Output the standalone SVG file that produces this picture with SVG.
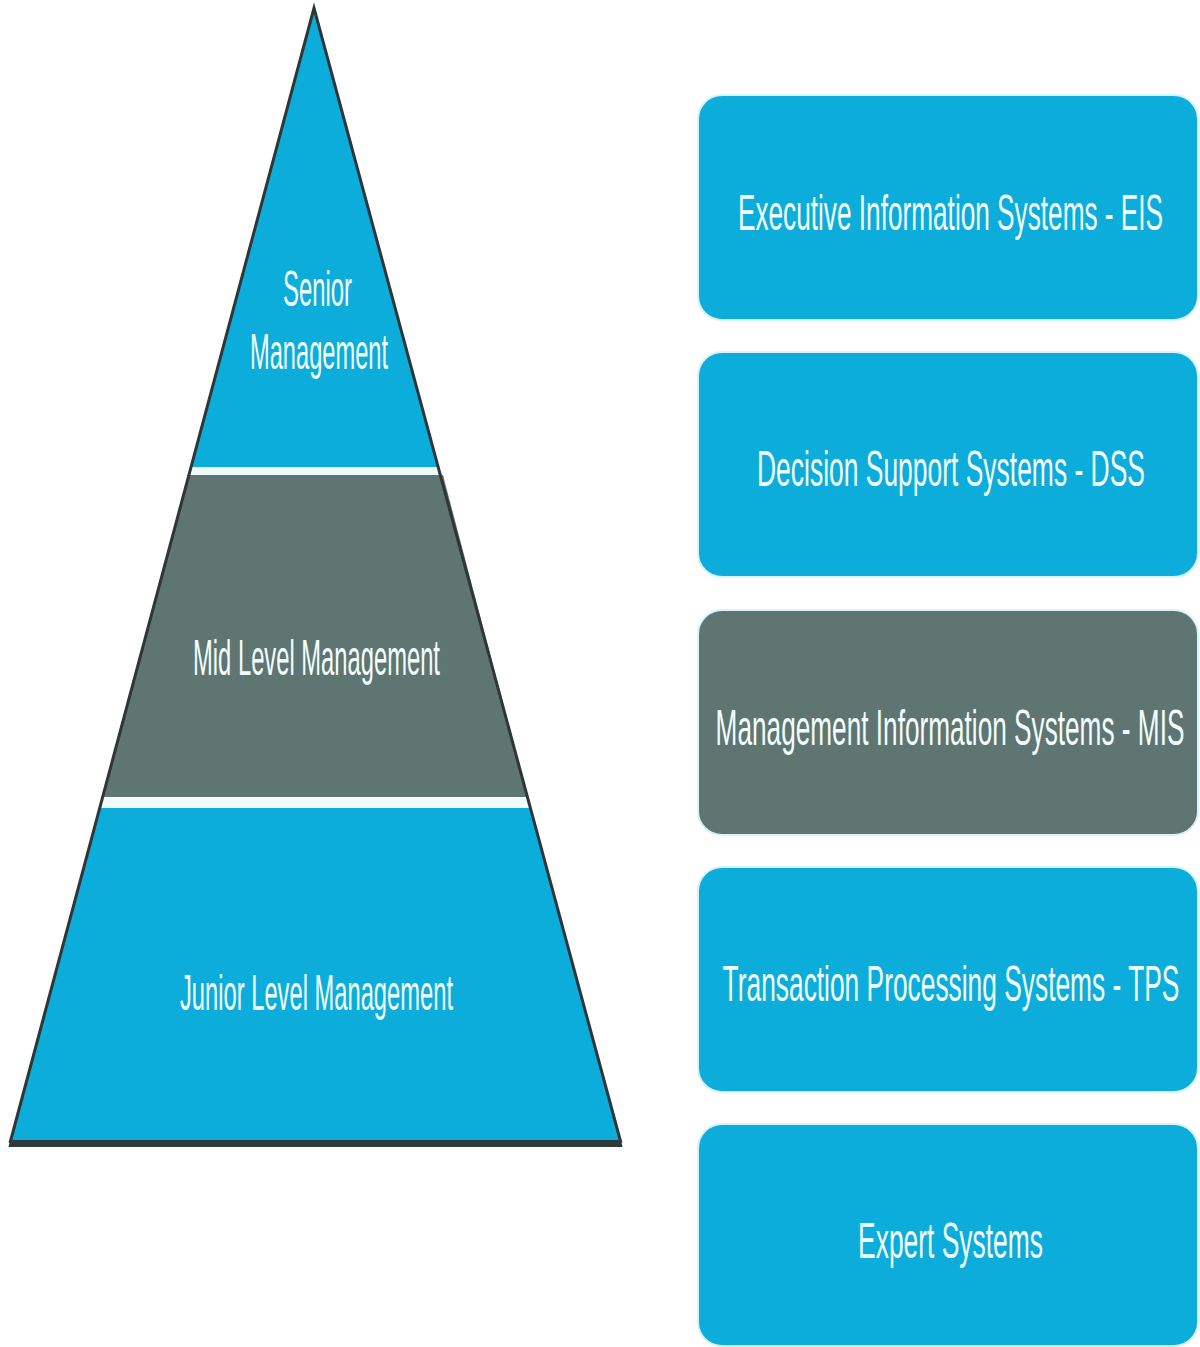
<svg xmlns="http://www.w3.org/2000/svg" width="1200" height="1347" viewBox="0 0 1200 1347">
  <style>
    .blue { fill: #0cadda; }
    .gray { fill: #5f7571; }
    .strip { fill: #effbfd; }
    .edge { fill: none; stroke: #2f3638; stroke-width: 3; stroke-linejoin: miter; }
    .box { stroke: #d8f3f9; stroke-width: 2; }
    .lbl { font-family: "Liberation Sans", Arial, sans-serif; font-size: 50px; fill: #f2fdff; text-anchor: middle; }
  </style>
  <rect width="1200" height="1347" fill="#ffffff"/>

  <g id="pyramid">
    <g id="senior-management">
      <polygon class="blue" points="314,8 438.3,467 190.9,467"/>
      <text class="lbl" transform="translate(317.5,306) scale(0.4775,1)">Senior</text>
      <text class="lbl" transform="translate(319,369) scale(0.473,1)">Management</text>
    </g>
    <polygon class="strip" points="190.9,467 438.3,467 440.5,475 188.7,475"/>
    <g id="mid-level-management">
      <polygon class="gray" points="188.7,475 443,475 527.7,797 102.4,797"/>
      <text class="lbl" transform="translate(316.5,675) scale(0.4753,1)">Mid Level Management</text>
    </g>
    <polygon class="strip" points="102.4,797 527.7,797 530.7,808 99.4,808"/>
    <g id="junior-level-management">
      <polygon class="blue" points="99.4,808 530.7,808 620.9,1141 10.1,1141"/>
      <text class="lbl" transform="translate(316.5,1010) scale(0.4746,1)">Junior Level Management</text>
    </g>
    <path class="edge" d="M10,1143 L314,8 L621,1143"/>
    <polygon fill="#2f3a3c" points="10.1,1140 620.9,1140 622.5,1147 8.5,1147"/>
  </g>

  <g id="eis">
    <rect class="blue box" x="698" y="95" width="500" height="225" rx="24" ry="24"/>
    <text class="lbl" transform="translate(950.5,230) scale(0.524,1)">Executive Information Systems - EIS</text>
  </g>
  <g id="dss">
    <rect class="blue box" x="698" y="352" width="500" height="225" rx="24" ry="24"/>
    <text class="lbl" transform="translate(951,486) scale(0.529,1)">Decision Support Systems - DSS</text>
  </g>
  <g id="mis">
    <rect class="gray box" x="698" y="610" width="500" height="225" rx="24" ry="24"/>
    <text class="lbl" transform="translate(950,745) scale(0.524,1)">Management Information Systems - MIS</text>
  </g>
  <g id="tps">
    <rect class="blue box" x="698" y="867" width="500" height="225" rx="24" ry="24"/>
    <text class="lbl" transform="translate(951,1001) scale(0.527,1)">Transaction Processing Systems - TPS</text>
  </g>
  <g id="expert-systems">
    <rect class="blue box" x="698" y="1124" width="500" height="222" rx="24" ry="24"/>
    <text class="lbl" transform="translate(950.5,1258) scale(0.528,1)">Expert Systems</text>
  </g>

  <g id="connectors"/>
</svg>
